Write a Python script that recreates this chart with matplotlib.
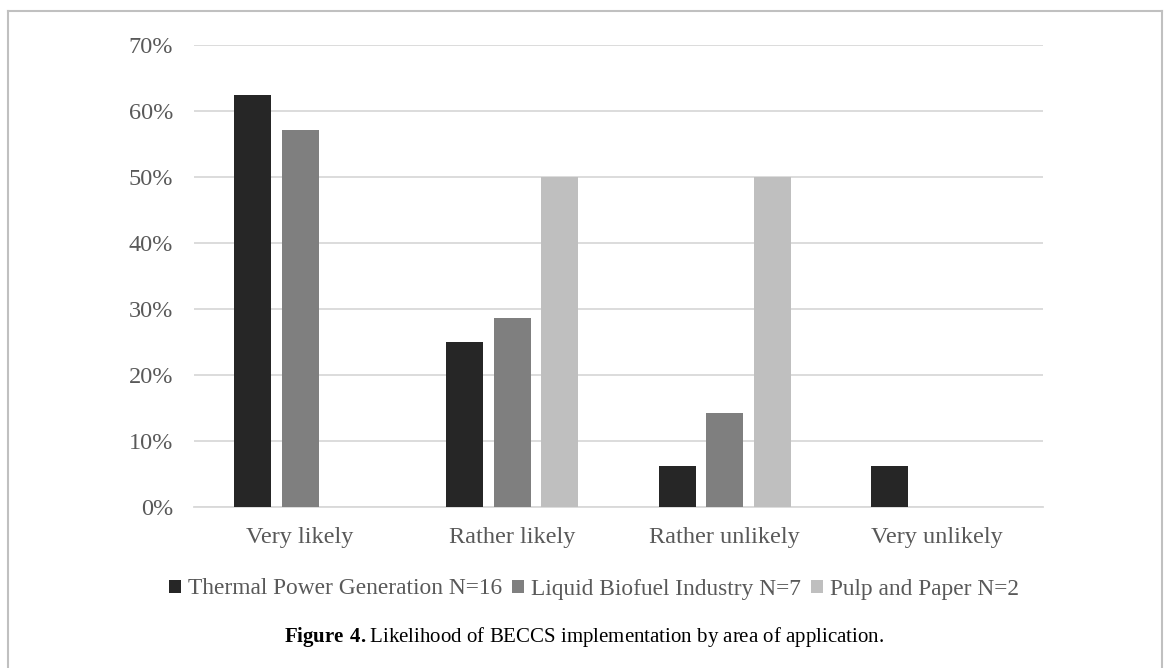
import matplotlib
matplotlib.use("Agg")
import matplotlib.pyplot as plt
import numpy as np
from matplotlib.lines import Line2D

categories = ["Very likely", "Rather likely", "Rather unlikely", "Very unlikely"]
series_names = ["Thermal Power Generation N=16", "Liquid Biofuel Industry N=7", "Pulp and Paper N=2"]
thermal = [62.5, 25.0, 6.25, 6.25]
liquid = [57.1, 28.6, 14.3, 0.0]
pulp = [0.0, 50.0, 50.0, 0.0]
yticks = [0, 10, 20, 30, 40, 50, 60, 70]
colors = ["#262626", "#7f7f7f", "#bfbfbf"]
caption_bold = "Figure 4."
caption_text = "Likelihood of BECCS implementation by area of application."

plt.rcParams['font.family'] = ['Liberation Serif', 'DejaVu Serif']
plt.rcParams['mathtext.fontset'] = 'custom'
plt.rcParams['mathtext.bf'] = 'Liberation Serif:bold'
plt.rcParams['mathtext.rm'] = 'Liberation Serif'

W, H = 1167, 668
fig = plt.figure(figsize=(W / 100, H / 100), dpi=100)
ax = fig.add_axes([194 / W, 1 - 507 / H, (1043 - 194) / W, (507 - 45) / H])

x = np.arange(len(categories))
width = 0.175
offset = 0.224
for i, (vals, name, c) in enumerate(zip([thermal, liquid, pulp], series_names, colors)):
    ax.bar(x + (i - 1) * offset, vals, width, color=c, label=name, zorder=3)

ax.set_xlim(-0.5, len(categories) - 0.5)
ax.set_ylim(0, 70)
ax.set_yticks(yticks)
ax.set_yticklabels([f"{v}%" for v in yticks])
ax.set_xticks(x)
ax.set_xticklabels(categories)
ax.grid(axis='y', color='#d9d9d9', linewidth=1.3, zorder=0)
for s in ['top', 'right', 'left']:
    ax.spines[s].set_visible(False)
ax.spines['bottom'].set_color('#d9d9d9')
ax.spines['bottom'].set_linewidth(1.3)
ax.tick_params(axis='both', length=0, labelsize=17.5, colors='#595959')
ax.tick_params(axis='y', pad=15)
ax.tick_params(axis='x', pad=14.5)

leg = fig.legend(loc='center', bbox_to_anchor=(594 / W, 1 - 589 / H), ncol=3, frameon=False,
                 fontsize=16.8, handlelength=0.5, handleheight=0.5, handletextpad=0.3,
                 columnspacing=0.45, labelcolor='#595959', borderpad=0, borderaxespad=0)

fig.text(0.5, 1 - 637 / H, r"$\mathbf{Figure\ 4.}$" + caption_text, ha='center', va='center',
         fontsize=15, color='black')

# frame
fc = '#c0c0c0'
fig.add_artist(Line2D([7.5 / W, 7.5 / W], [0, 1 - 11 / H], color=fc, lw=1.5, transform=fig.transFigure))
fig.add_artist(Line2D([7.5 / W, 1162 / W], [1 - 11 / H, 1 - 11 / H], color=fc, lw=1.5, transform=fig.transFigure))
fig.add_artist(Line2D([1162 / W, 1162 / W], [0, 1 - 11 / H], color=fc, lw=1.5, transform=fig.transFigure))

fig.savefig("out.png", dpi=100)
